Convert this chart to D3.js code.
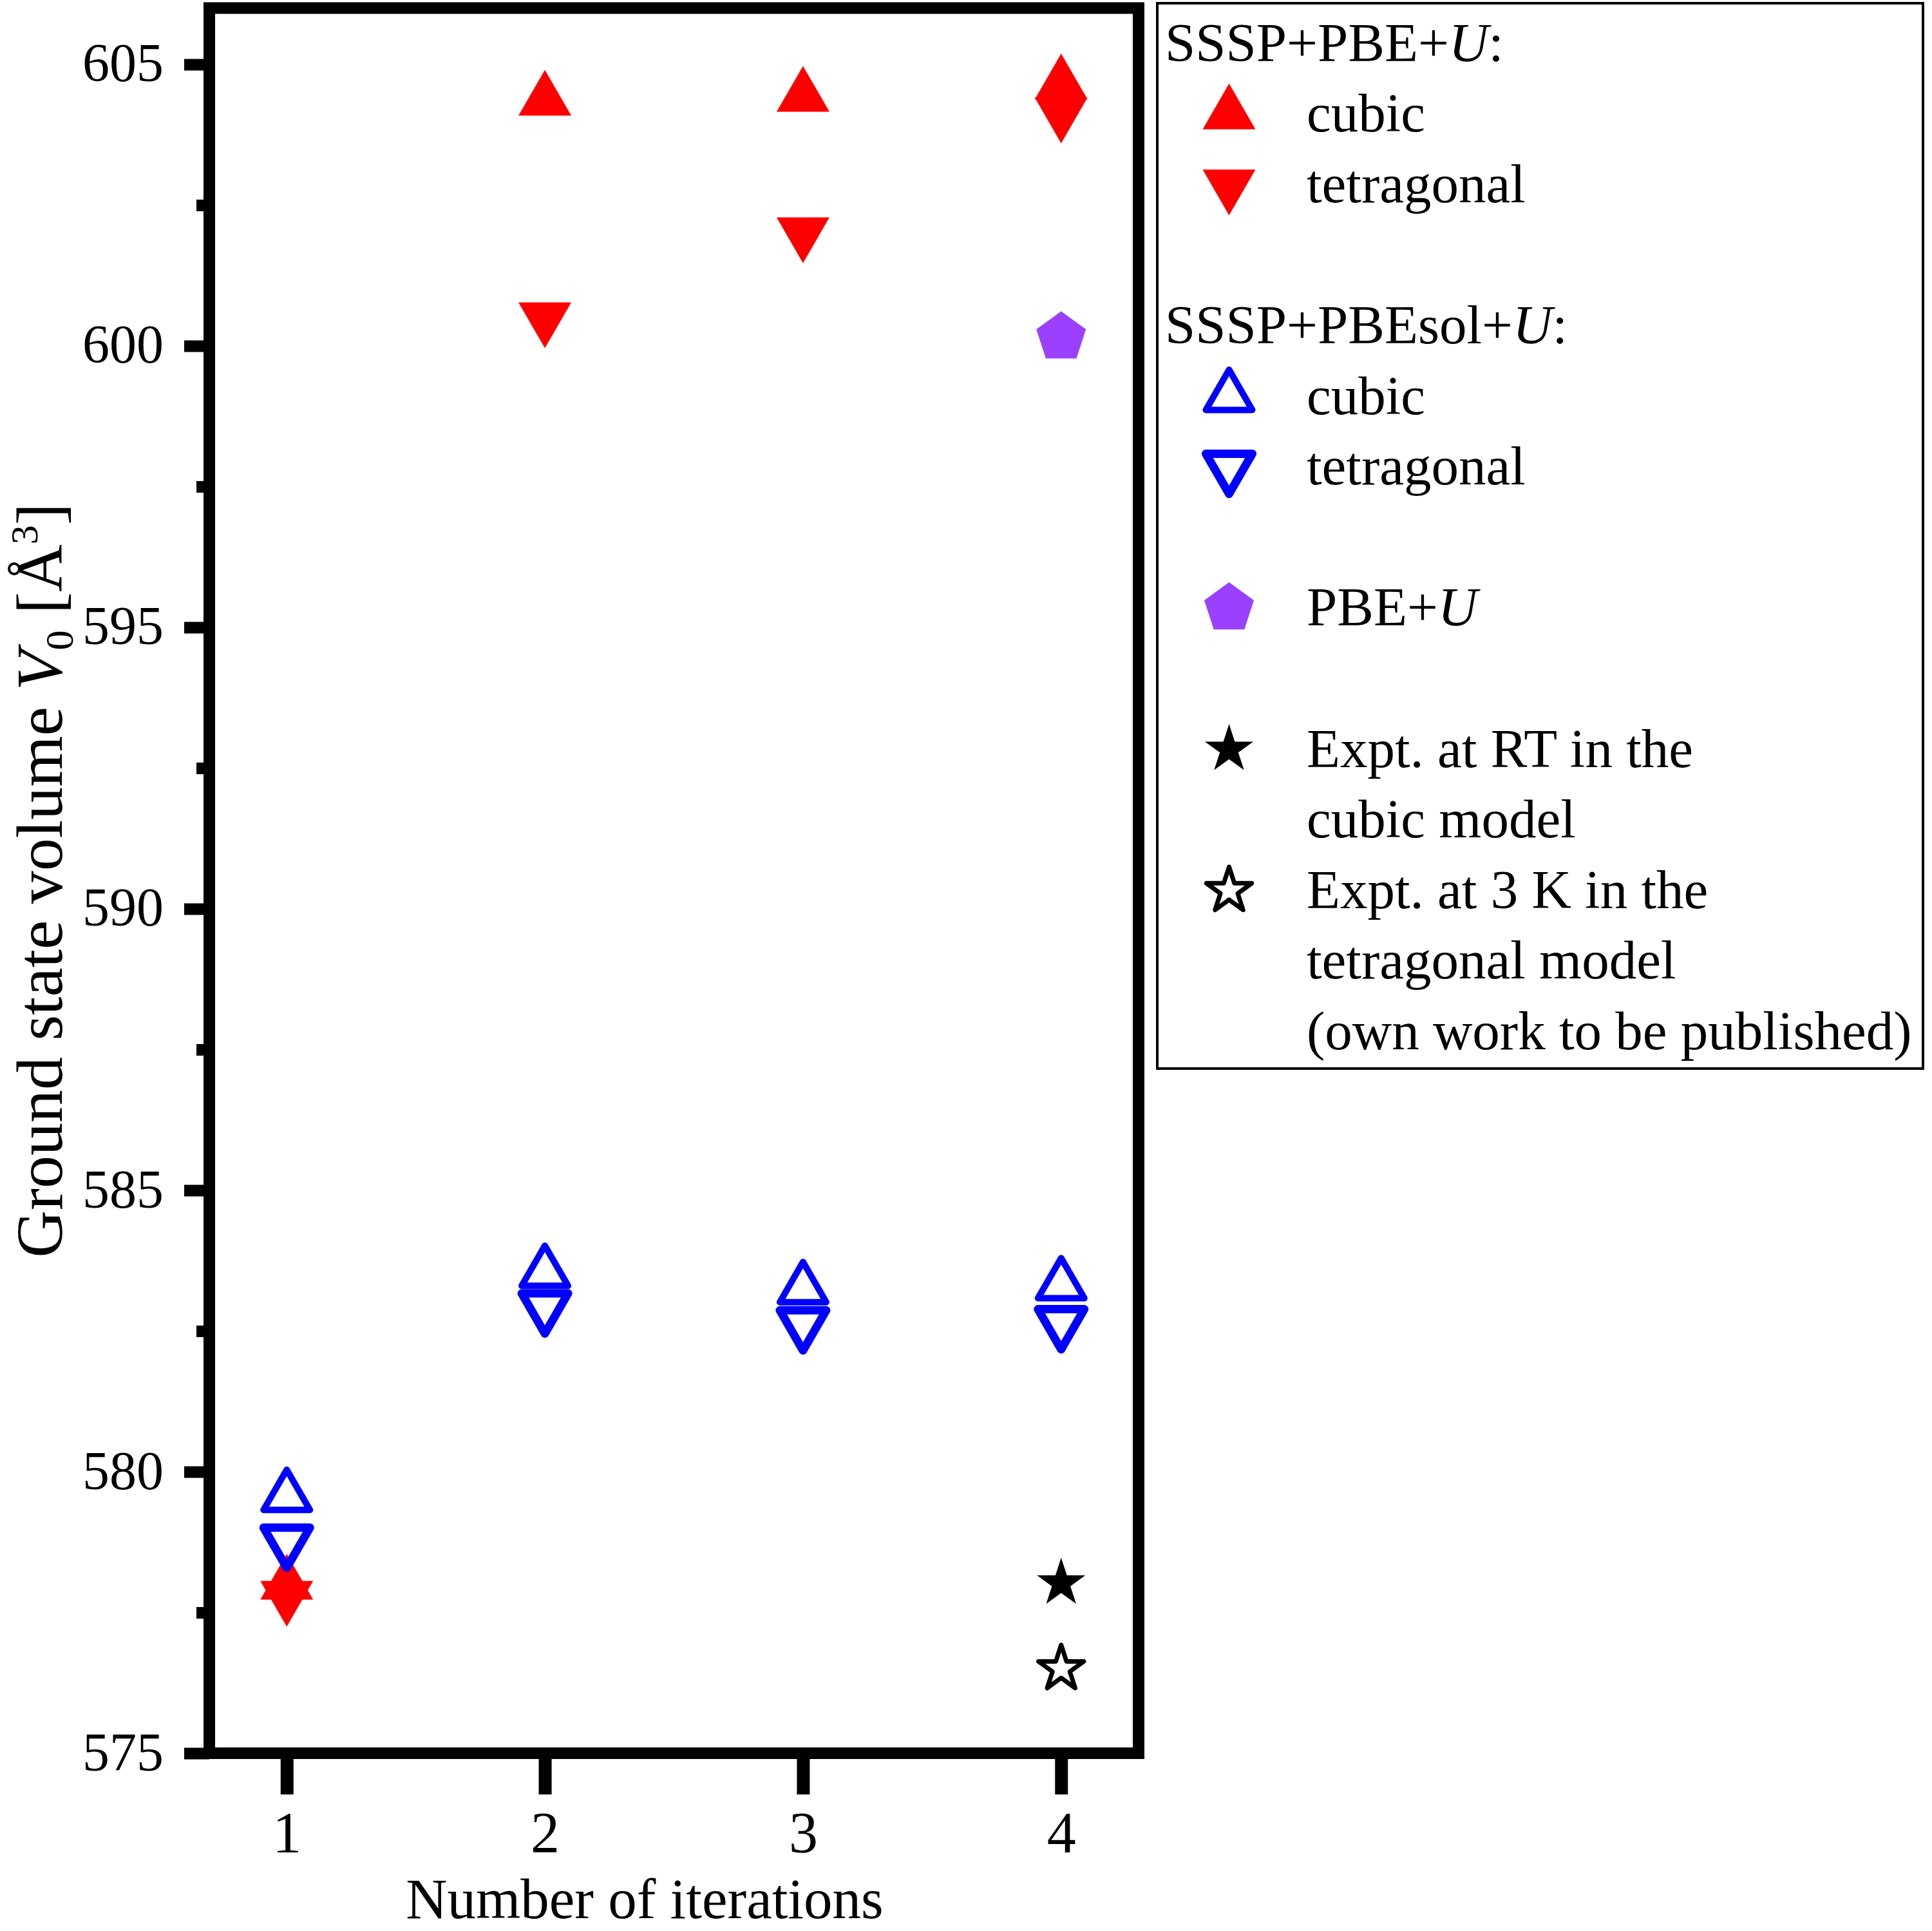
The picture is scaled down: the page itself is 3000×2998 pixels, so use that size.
<!DOCTYPE html>
<html><head><meta charset="utf-8">
<script src="https://cdn.jsdelivr.net/npm/d3@7"></script>
<style>body{margin:0;background:#fff}</style>
</head><body>
<svg id="chart" width="3000" height="2998" xmlns="http://www.w3.org/2000/svg"></svg>
<script>
// ---- data ----
const iterations = [1, 2, 3, 4];
const pbeCubic = [578.00, 604.36, 604.43, 604.65];
const pbeTetragonal = [577.79, 600.50, 602.01, 604.14];
const pbesolCubic = [579.56, 583.54, 583.25, 583.32];
const pbesolTetragonal = [578.77, 582.93, 582.63, 582.65];
const pbeUIterations = [4];
const pbeUValues = [600.15];
const exptRTIterations = [4];
const exptRTValues = [578.02];
const expt3KIterations = [4];
const expt3KValues = [576.50];
const yTickValues = [575, 580, 585, 590, 595, 600, 605];
const yMinorTickValues = [577.5, 582.5, 587.5, 592.5, 597.5, 602.5];
const xTickValues = [1, 2, 3, 4];
const xTitle = "Number of iterations";
const legendHeaders = [["SSSP+PBE+", "U", ":"], ["SSSP+PBEsol+", "U", ":"]];
const legendLabels = ["cubic", "tetragonal", "cubic", "tetragonal", "PBE+U",
  "Expt. at RT in the", "cubic model", "Expt. at 3 K in the", "tetragonal model", "(own work to be published)"];

// ---- layout ----
const FONT = "'Liberation Serif', 'Times New Roman', serif";
const svg = d3.select("#chart");
const x = d3.scaleLinear([0.7, 4.3], [325, 1768]);
const y = d3.scaleLinear([575, 606], [2722, 12.5]);

// symbols
const symbolPentagon = {
  draw(ctx, size) {
    const r = Math.sqrt(size);
    for (let i = 0; i < 5; i++) {
      const a = 2 * Math.PI * i / 5;
      const px = Math.sin(a) * r, py = -Math.cos(a) * r;
      if (i === 0) ctx.moveTo(px, py); else ctx.lineTo(px, py);
    }
    ctx.closePath();
  }
};
const styles = {
  redUp:    {path: d3.symbol(d3.symbolTriangle, 2911)(), rot: 0,   fill: "#ff0000", stroke: "none", sw: 0},
  redDown:  {path: d3.symbol(d3.symbolTriangle, 2911)(), rot: 180, fill: "#ff0000", stroke: "none", sw: 0},
  blueUp:   {path: d3.symbol(d3.symbolTriangle, 2244)(), rot: 0,   fill: "none", stroke: "#0000ff", sw: 10},
  blueDown: {path: d3.symbol(d3.symbolTriangle, 2244)(), rot: 180, fill: "none", stroke: "#0000ff", sw: 13},
  pent:     {path: d3.symbol(symbolPentagon, 1640)(), rot: 0, fill: "#9b40ff", stroke: "none", sw: 0},
  starFull: {path: d3.symbol(d3.symbolStar, 1751)(), rot: 0, fill: "#000000", stroke: "none", sw: 0},
  starOpen: {path: d3.symbol(d3.symbolStar, 1537)(), rot: 0, fill: "none", stroke: "#000000", sw: 7}
};
function drawMarks(g, xs, ys, key) {
  const s = styles[key];
  g.selectAll(null).data(xs.map((d, i) => [d, ys[i]])).join("path")
    .attr("d", s.path)
    .attr("transform", d => `translate(${x(d[0])},${y(d[1])}) rotate(${s.rot})`)
    .attr("fill", s.fill).attr("stroke", s.stroke).attr("stroke-width", s.sw)
    .attr("stroke-linejoin", "round");
}

// axes
const yAxis = svg.append("g").attr("transform", "translate(325,0)")
  .call(d3.axisLeft(y).tickValues(yTickValues).tickSize(39).tickSizeOuter(0).tickPadding(32).tickFormat(d3.format("d")));
const yMinor = svg.append("g").attr("transform", "translate(325,0)")
  .call(d3.axisLeft(y).tickValues(yMinorTickValues).tickSize(20).tickSizeOuter(0).tickFormat(""));
const xAxis = svg.append("g").attr("transform", "translate(0,2722)")
  .call(d3.axisBottom(x).tickValues(xTickValues).tickSize(64).tickSizeOuter(0).tickPadding(26).tickFormat(d3.format("d")));
[yAxis, yMinor, xAxis].forEach(g => {
  g.select(".domain").remove();
  g.attr("font-family", FONT);
  g.selectAll(".tick line").attr("stroke", "#000").attr("stroke-width", 18);
});
yAxis.selectAll(".tick text").attr("font-size", 84).attr("fill", "#000").attr("dy", "0.31em");
xAxis.selectAll(".tick text").attr("font-size", 90).attr("fill", "#000");
xAxis.selectAll(".tick line").attr("stroke-width", 20);

// markers
const marks = svg.append("g");
drawMarks(marks, iterations, pbeCubic, "redUp");
drawMarks(marks, iterations, pbeTetragonal, "redDown");
drawMarks(marks, iterations, pbesolCubic, "blueUp");
drawMarks(marks, iterations, pbesolTetragonal, "blueDown");
drawMarks(marks, pbeUIterations, pbeUValues, "pent");
drawMarks(marks, exptRTIterations, exptRTValues, "starFull");
drawMarks(marks, expt3KIterations, expt3KValues, "starOpen");

// frame
svg.append("rect")
  .attr("x", x.range()[0]).attr("y", y.range()[1])
  .attr("width", x.range()[1] - x.range()[0]).attr("height", y.range()[0] - y.range()[1])
  .attr("fill", "none").attr("stroke", "#000").attr("stroke-width", 18);

// axis titles
svg.append("text").attr("x", 1001).attr("y", 2978).attr("text-anchor", "middle")
  .attr("font-family", FONT).attr("font-size", 89).text(xTitle);
const yt = svg.append("text").attr("transform", "translate(96,1367) rotate(-90)")
  .attr("text-anchor", "middle").attr("font-family", FONT).attr("font-size", 102);
yt.append("tspan").text("Ground state volume ");
yt.append("tspan").attr("font-style", "italic").text("V");
yt.append("tspan").attr("font-size", 62).attr("dy", 17).text("0");
yt.append("tspan").attr("dy", -17).text("\u00a0[\u00c5");
yt.append("tspan").attr("font-size", 60).attr("dy", -38).text("3");
yt.append("tspan").attr("dy", 38).text("]");

// legend
const lg = svg.append("g").attr("font-family", FONT).attr("font-size", 85);
lg.append("rect").attr("x", 1797).attr("y", 5).attr("width", 1189).attr("height", 1654)
  .attr("fill", "none").attr("stroke", "#000").attr("stroke-width", 4);
const rowY = i => 94.6 + 109.6 * i;
[[0, 0], [4, 1]].forEach(([row, h]) => {
  const t = lg.append("text").attr("x", 1809).attr("y", rowY(row));
  t.append("tspan").text(legendHeaders[h][0]);
  t.append("tspan").attr("font-style", "italic").text(legendHeaders[h][1]);
  t.append("tspan").text(legendHeaders[h][2]);
});
const itemRows = [1, 2, 5, 6, 8, 10, 11, 12, 13, 14];
itemRows.forEach((row, i) => {
  const label = legendLabels[i];
  const t = lg.append("text").attr("x", 2029).attr("y", rowY(row));
  if (label === "PBE+U") {
    t.append("tspan").text("PBE+");
    t.append("tspan").attr("font-style", "italic").text("U");
  } else t.text(label);
});
const legendSymbols = [[1, "redUp"], [2, "redDown"], [5, "blueUp"], [6, "blueDown"], [8, "pent"], [10, "starFull"], [12, "starOpen"]];
legendSymbols.forEach(([row, key]) => {
  const s = styles[key];
  lg.append("path").attr("d", s.path)
    .attr("transform", `translate(1908.5,${rowY(row) - 27}) rotate(${s.rot})`)
    .attr("fill", s.fill).attr("stroke", s.stroke).attr("stroke-width", s.sw)
    .attr("stroke-linejoin", "round");
});
</script>
</body></html>
